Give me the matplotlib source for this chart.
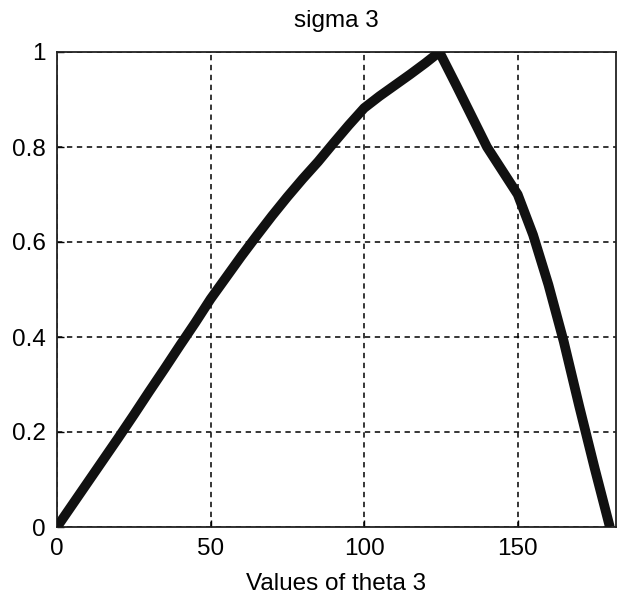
import matplotlib
matplotlib.use("Agg")
import matplotlib.pyplot as plt

theta = [0, 5, 10, 15, 20, 25, 30, 35, 40, 45, 50, 55, 60, 65, 70, 75, 80, 85, 90,
         95, 100, 105, 110, 115, 120, 124.5, 130, 135, 140, 145, 150, 155, 160, 165,
         170, 175, 180]
sigma = [0, 0.047, 0.094, 0.141, 0.188, 0.236, 0.285, 0.333, 0.382, 0.43, 0.48,
         0.525, 0.57, 0.613, 0.655, 0.695, 0.733, 0.769, 0.808, 0.846, 0.882,
         0.907, 0.930, 0.953, 0.977, 1.0, 0.93, 0.865, 0.80, 0.75, 0.70, 0.615,
         0.51, 0.39, 0.255, 0.125, 0.0]
xticks = [0, 50, 100, 150]
yticks = [0, 0.2, 0.4, 0.6, 0.8, 1]
yticklabels = ["0", "0.2", "0.4", "0.6", "0.8", "1"]
title = "sigma 3"
xlabel = "Values of theta 3"

plt.rcParams['font.family'] = ['Liberation Sans', 'DejaVu Sans']

fig = plt.figure(figsize=(6.2, 6.02), dpi=100)
ax = fig.add_axes([57/620, 1 - 527/602, (616 - 57)/620, (527 - 52)/602])

ax.plot(theta, sigma, color='#111111', lw=7, solid_capstyle='butt',
        solid_joinstyle='round', zorder=3)

ax.set_xlim(0, 182)
ax.set_ylim(0, 1)
ax.set_xticks(xticks)
ax.set_yticks(yticks)
ax.set_yticklabels(yticklabels)
ax.grid(True, color='black', linestyle=(0, (3.5, 3.0)), linewidth=1.1)
ax.tick_params(direction='in', length=5, width=1, labelsize=17.5, pad=8,
               top=False, right=False)
for s in ax.spines.values():
    s.set_linewidth(1.3)
    s.set_color('#222222')

ax.set_title(title, fontsize=17.5, pad=18)
ax.set_xlabel(xlabel, fontsize=17.5, labelpad=9)

fig.savefig("out.png", dpi=100)
